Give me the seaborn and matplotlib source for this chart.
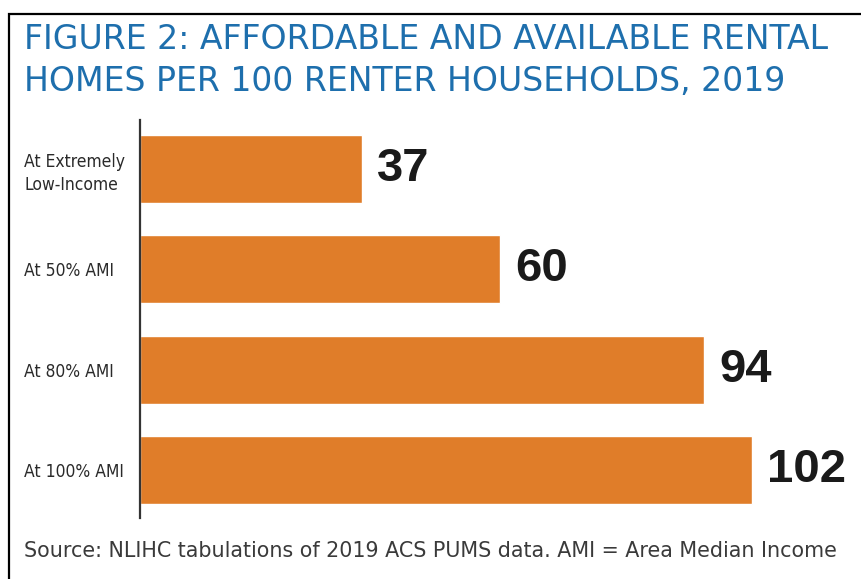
import matplotlib
matplotlib.use("Agg")
import matplotlib.pyplot as plt
from matplotlib.patches import Rectangle
import seaborn as sns
import pandas as pd

categories = ["At Extremely\nLow-Income", "At 50% AMI", "At 80% AMI", "At 100% AMI"]
values = [37, 60, 94, 102]
title_lines = ["FIGURE 2: AFFORDABLE AND AVAILABLE RENTAL",
               "HOMES PER 100 RENTER HOUSEHOLDS, 2019"]
source = "Source: NLIHC tabulations of 2019 ACS PUMS data. AMI = Area Median Income"

BAR = "#E07D29"
BLUE = "#1E6FAD"

sns.set_theme(style="white")
plt.rcParams["font.family"] = ["DejaVu Sans"]

W, H = 861, 579
fig = plt.figure(figsize=(W / 100, H / 100), dpi=100)
# axes: left spine at x=140, top y=120, bottom y=518
ax = fig.add_axes([140 / W, 1 - 518 / H, 720 / W, (518 - 120) / H])

df = pd.DataFrame({"cat": categories, "val": values})
sns.barplot(data=df, x="val", y="cat", orient="h", color=BAR, saturation=1,
            width=0.68, ax=ax)
ax.set_xlim(0, 120)
ax.set_ylim(3.48, -0.49)
ax.set_xlabel("")
ax.set_ylabel("")
ax.set_xticks([])
for s in ["top", "right", "bottom"]:
    ax.spines[s].set_visible(False)
ax.spines["left"].set_color("#333333")
ax.spines["left"].set_linewidth(1.6)

ax.tick_params(axis="y", length=0, pad=116 * 0.72)
for lab in ax.get_yticklabels():
    lab.set_ha("left")
    lab.set_fontfamily(["DejaVu Sans"])
    lab.set_fontstretch("condensed")
    lab.set_fontsize(12.5)
    lab.set_color("#2a2a2a")
    lab.set_linespacing(1.35)

for c in ax.containers:
    ax.bar_label(c, labels=[str(v) for v in values], padding=11,
                 fontsize=34, fontweight="bold", color="#1a1a1a",
                 fontfamily=["Liberation Sans"])

renderer = fig.canvas.get_renderer()


def fit_text(t, target_px):
    w = t.get_window_extent(renderer).width
    t.set_fontsize(t.get_fontsize() * target_px / w)


t1 = fig.text(24 / W, 1 - 49 / H, title_lines[0], ha="left", va="baseline",
              color=BLUE, fontsize=20, fontfamily=["DejaVu Sans"])
fit_text(t1, 805)
t2 = fig.text(24 / W, 1 - 91 / H, title_lines[1], ha="left", va="baseline",
              color=BLUE, fontsize=t1.get_fontsize(), fontfamily=["DejaVu Sans"])
ts = fig.text(24 / W, 1 - 557 / H, source, ha="left", va="baseline",
              color="#3a3a3a", fontsize=13, fontfamily=["DejaVu Sans"])
fit_text(ts, 814)

fig.patches.append(Rectangle((9 / W, -0.2), 1.5, (1 - 14 / H) + 0.2,
                             transform=fig.transFigure, fill=False,
                             edgecolor="black", linewidth=1.6, clip_on=False))

fig.savefig("out.png", dpi=100, facecolor="white")
